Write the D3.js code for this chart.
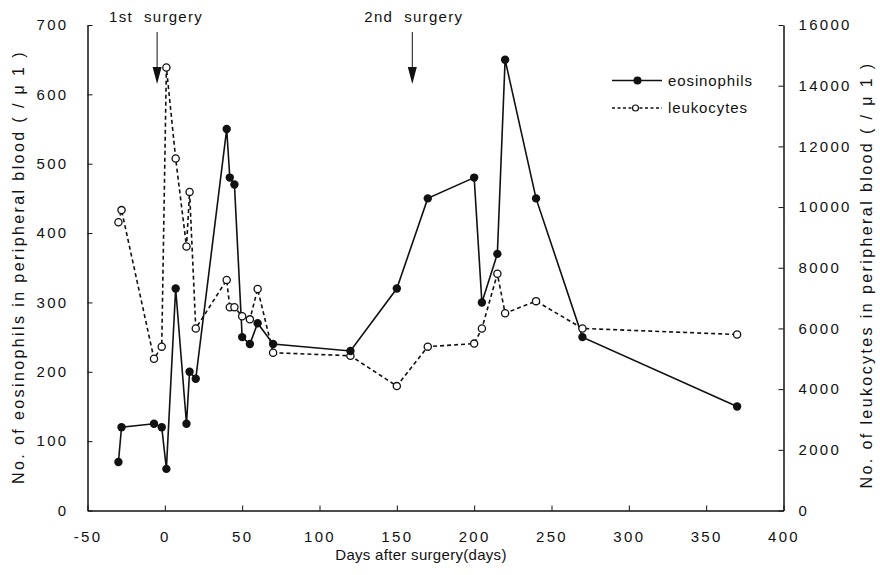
<!DOCTYPE html>
<html>
<head>
<meta charset="utf-8">
<script src="https://cdn.jsdelivr.net/npm/d3@7"></script>
<style>
  html, body { margin: 0; padding: 0; background: #fff; }
  svg text { font-family: "Liberation Sans", Arial, Helvetica, sans-serif; fill: #111; }
</style>
</head>
<body>
<svg id="chart" width="880" height="575"></svg>
<script>
// ---- data ----
const eosDays   = [-30, -28, -7, -2, 1, 7, 14, 16, 20, 40, 42, 45, 50, 55, 60, 70, 120, 150, 170, 200, 205, 215, 220, 240, 270, 370];
const eosValues = [70, 120, 125, 120, 60, 320, 125, 200, 190, 550, 480, 470, 250, 240, 270, 240, 230, 320, 450, 480, 300, 370, 650, 450, 250, 150];

const leuDays   = [-30, -28, -7, -2, 1, 7, 14, 16, 20, 40, 42, 45, 50, 55, 60, 70, 120, 150, 170, 200, 205, 215, 220, 240, 270, 370];
const leuValues = [9500, 9900, 5000, 5400, 14600, 11600, 8700, 10500, 6000, 7600, 6700, 6700, 6400, 6300, 7300, 5200, 5100, 4100, 5400, 5500, 6000, 7800, 6500, 6900, 6000, 5800];

const xTicks      = [-50, 0, 50, 100, 150, 200, 250, 300, 350, 400];
const yLeftTicks  = [0, 100, 200, 300, 400, 500, 600, 700];
const yRightTicks = [0, 2000, 4000, 6000, 8000, 10000, 12000, 14000, 16000];

const surgeries      = [-5, 160];
const surgeryLabels  = ["1st  surgery", "2nd  surgery"];
const legendLabels   = ["eosinophils", "leukocytes"];

const xLabel      = "Days after surgery(days)";
const yLeftLabel  = "No. of eosinophils in peripheral blood ( / μ 1 )";
const yRightLabel = "No. of leukocytes in peripheral blood ( / μ 1 )";

// ---- layout ----
const svg = d3.select("#chart");
const pLeft = 87.5, pRight = 783.5, pTop = 25, pBottom = 510.5;

const x  = d3.scaleLinear().domain([-50, 400]).range([pLeft, pRight]);
const yL = d3.scaleLinear().domain([0, 700]).range([pBottom, pTop]);
const yR = d3.scaleLinear().domain([0, 16000]).range([pBottom, pTop]);

const fontSize = 15;
const fmt = d => String(d);

// axes
const gx = svg.append("g").attr("transform", `translate(0,${pBottom})`)
  .call(d3.axisBottom(x).tickValues(xTicks).tickSizeInner(-5).tickSizeOuter(0).tickPadding(21).tickFormat(fmt));
const gl = svg.append("g").attr("transform", `translate(${pLeft},0)`)
  .call(d3.axisLeft(yL).tickValues(yLeftTicks).tickSizeInner(-5).tickSizeOuter(0).tickPadding(19).tickFormat(fmt));
const gr = svg.append("g").attr("transform", `translate(${pRight},0)`)
  .call(d3.axisRight(yR).tickValues(yRightTicks).tickSizeInner(-5).tickSizeOuter(0).tickPadding(15).tickFormat(fmt));

[gx, gl, gr].forEach(g => {
  g.select(".domain").attr("stroke", "#111").attr("stroke-width", 1.5);
  g.selectAll(".tick line").attr("stroke", "#111").attr("stroke-width", 1);
  g.selectAll(".tick text").style("font-size", fontSize + "px").style("letter-spacing", "2.3px")
    .style("font-family", '"Liberation Sans", Arial, sans-serif').attr("fill", "#111");
});
gx.selectAll(".tick text").attr("dy", "0.71em");

// lines
const eosData = eosDays.map((d, i) => ({ d, v: eosValues[i] }));
const leuData = leuDays.map((d, i) => ({ d, v: leuValues[i] }));

svg.append("path").datum(leuData)
  .attr("fill", "none").attr("stroke", "#111").attr("stroke-width", 1.6)
  .attr("stroke-dasharray", "4,3")
  .attr("d", d3.line().x(p => x(p.d)).y(p => yR(p.v)));

svg.append("path").datum(eosData)
  .attr("fill", "none").attr("stroke", "#111").attr("stroke-width", 1.6)
  .attr("d", d3.line().x(p => x(p.d)).y(p => yL(p.v)));

svg.append("g").selectAll("circle").data(leuData).join("circle")
  .attr("cx", p => x(p.d)).attr("cy", p => yR(p.v)).attr("r", 3.6)
  .attr("fill", "#fff").attr("stroke", "#111").attr("stroke-width", 1.3);

svg.append("g").selectAll("circle").data(eosData).join("circle")
  .attr("cx", p => x(p.d)).attr("cy", p => yL(p.v)).attr("r", 4.2)
  .attr("fill", "#111");

// surgery arrows
const arrows = svg.append("g");
surgeries.forEach((s, i) => {
  const ax = x(s);
  arrows.append("line").attr("x1", ax).attr("x2", ax).attr("y1", 32).attr("y2", 70)
    .attr("stroke", "#111").attr("stroke-width", 1);
  arrows.append("path")
    .attr("d", d3.line()([[ax - 4.5, 67], [ax + 4.5, 67], [ax, 84]]) + "Z")
    .attr("fill", "#111");
  arrows.append("text").attr("x", ax - 48).attr("y", 22)
    .style("font-size", fontSize + "px").style("letter-spacing", "1.3px")
    .style("white-space", "pre").text(surgeryLabels[i]);
});

// legend
const lg = svg.append("g");
const lgY = [80.5, 108];
lg.append("line").attr("x1", 612).attr("x2", 662).attr("y1", lgY[0]).attr("y2", lgY[0])
  .attr("stroke", "#111").attr("stroke-width", 1.5);
lg.append("circle").attr("cx", 637.5).attr("cy", lgY[0]).attr("r", 4).attr("fill", "#111");
lg.append("line").attr("x1", 612).attr("x2", 662).attr("y1", lgY[1]).attr("y2", lgY[1])
  .attr("stroke", "#111").attr("stroke-width", 1.3).attr("stroke-dasharray", "3,2.5");
lg.append("circle").attr("cx", 635.5).attr("cy", lgY[1]).attr("r", 3).attr("fill", "#fff")
  .attr("stroke", "#111").attr("stroke-width", 1.2);
legendLabels.forEach((t, i) => {
  lg.append("text").attr("x", 668).attr("y", lgY[i]).attr("dy", "0.35em")
    .style("font-size", fontSize + "px").style("letter-spacing", "0.9px").text(t);
});

// axis titles
svg.append("text").attr("x", 421).attr("y", 560)
  .attr("text-anchor", "middle").style("font-size", fontSize + "px").style("letter-spacing", "0.3px").text(xLabel);
svg.append("text").attr("transform", `translate(24,267) rotate(-90)`)
  .attr("text-anchor", "middle").style("font-size", "16px").style("letter-spacing", "2.4px").style("white-space", "pre").text(yLeftLabel);
svg.append("text").attr("transform", `translate(872,275) rotate(-90)`)
  .attr("text-anchor", "middle").style("font-size", "16px").style("letter-spacing", "2.4px").style("white-space", "pre").text(yRightLabel);
</script>
</body>
</html>
